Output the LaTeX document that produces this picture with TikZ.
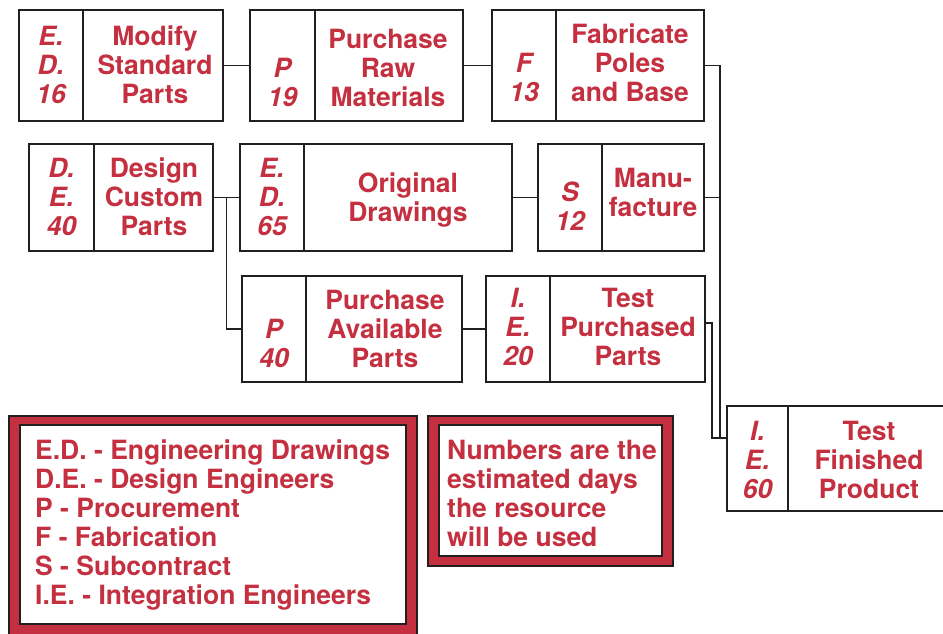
\documentclass[tikz,border=0pt]{standalone}
\usepackage{fontspec}
\setmainfont{TeX Gyre Heros}
\usetikzlibrary{calc}
\definecolor{tred}{RGB}{196,48,64}
\definecolor{tdark}{RGB}{35,31,32}
\newcommand{\tbox}[6]{% name, left, divider, right, top, bottom
  \node[box, minimum width={(#3-#2)*1pt}, minimum height={(#6-#5)*1pt}] (c#1) at (#2,#5) {};
  \node[box, minimum width={(#4-#3)*1pt}, minimum height={(#6-#5)*1pt}] (t#1) at (#3,#5) {};
}
\begin{document}
\begin{tikzpicture}[x=1pt,y=-1pt,
  box/.style={draw=tdark, line width=1.8pt, rectangle, inner sep=0pt, outer sep=0pt, anchor=north west},
  codetxt/.style={text=tred, font=\bfseries\itshape\fontsize{26.5}{29}\selectfont, align=center, inner sep=0pt},
  tasktxt/.style={text=tred, font=\bfseries\fontsize{26.5}{29}\selectfont, align=center, inner sep=0pt},
  conn/.style={draw=tdark, line width=1.8pt},
  legout/.style={draw=tdark, line width=1.5pt, fill=tred, inner sep=0pt, outer sep=0pt, anchor=north west},
  legin/.style={draw=tdark, line width=2.5pt, fill=white, inner sep=0pt, outer sep=0pt, anchor=north west},
  legtxt/.style={text=tred, font=\bfseries\fontsize{26.5}{29}\selectfont, align=left, inner sep=0pt, anchor=west}]
\useasboundingbox (0,0) rectangle (943,633);
\fill[white] (0,0) rectangle (943,633);

% task boxes
\tbox{1}{19}{83}{223}{10}{121}
\tbox{2}{250}{315}{463}{10}{121}
\tbox{3}{492}{556}{704}{10}{121}
\tbox{4}{29}{94}{213}{144}{251}
\tbox{5}{240}{304}{512}{144}{251}
\tbox{6}{538}{602}{704}{144}{251}
\tbox{7}{242}{306}{462}{276}{382}
\tbox{8}{486}{550}{705}{276}{382}
\tbox{9}{727}{788}{950}{406}{511}

% texts
\node[codetxt] (k1) at (51,64.5) {E.\\D.\\16};
\node[tasktxt] (n1) at (155,64.5) {Modify\\Standard\\Parts};
\node[codetxt] (k2) at (282.5,82.5) {P\\19};
\node[tasktxt] (n2) at (388,67.5) {Purchase\\Raw\\Materials};
\node[codetxt] (k3) at (524,77) {F\\13};
\node[tasktxt] (n3) at (630,62.5) {Fabricate\\Poles\\and Base};
\node[codetxt] (k4) at (61.5,197) {D.\\E.\\40};
\node[tasktxt] (n4) at (154,197) {Design\\Custom\\Parts};
\node[codetxt] (k5) at (272,196.5) {E.\\D.\\65};
\node[tasktxt] (n5) at (408,200) {Original\\Drawings};
\node[codetxt] (k6) at (570,206.5) {S\\12};
\node[tasktxt] (n6) at (653,192.5) {Manu-\\facture};
\node[codetxt] (k7) at (274,343.5) {P\\40};
\node[tasktxt] (n7) at (385,329) {Purchase\\Available\\Parts};
\node[codetxt] (k8) at (518,327) {I.\\E.\\20};
\node[tasktxt] (n8) at (628,327) {Test\\Purchased\\Parts};
\node[codetxt] (k9) at (757.5,459.5) {I.\\E.\\60};
\node[tasktxt] (n9) at (869,459.5) {Test\\Finished\\Product};

% connectors
\draw[conn] (t1.east) -- (c2.west);
\draw[conn] (t2.east) -- (c3.west);
\coordinate (bus) at (720,438);
\draw[conn] (t3.east) -| (bus);
\draw[conn] (t6.east) -- (t6.east -| bus);
\draw[conn] ([yshift=6pt]t8.east) -- ++(7,0) |- (c9.west |- bus);
\draw[conn] (t4.east) -- (c5.west);
\coordinate (j2) at ($(t4.east)!0.5!(c5.west)$);
\draw[conn] (j2) |- (c7.west);
\draw[conn] (t5.east) -- (c6.west);
\draw[conn] (t7.east) -- (c8.west);

% legends
\node[legout, minimum width=408pt, minimum height=230pt] (l1o) at (9,416) {};
\node[legin, minimum width=386pt, minimum height=199pt] (l1i) at (20,425) {};
\node[legtxt] (l1t) at (35,525) {E.D. - Engineering Drawings\\D.E. - Design Engineers\\P - Procurement\\F - Fabrication\\S - Subcontract\\I.E. - Integration Engineers};
\node[legout, minimum width=245pt, minimum height=150pt] (l2o) at (428,416) {};
\node[legin, minimum width=223pt, minimum height=131pt] (l2i) at (439,425) {};
\node[legtxt] (l2t) at (447,493.5) {Numbers are the\\estimated days\\the resource\\will be used};
\end{tikzpicture}
\end{document}
